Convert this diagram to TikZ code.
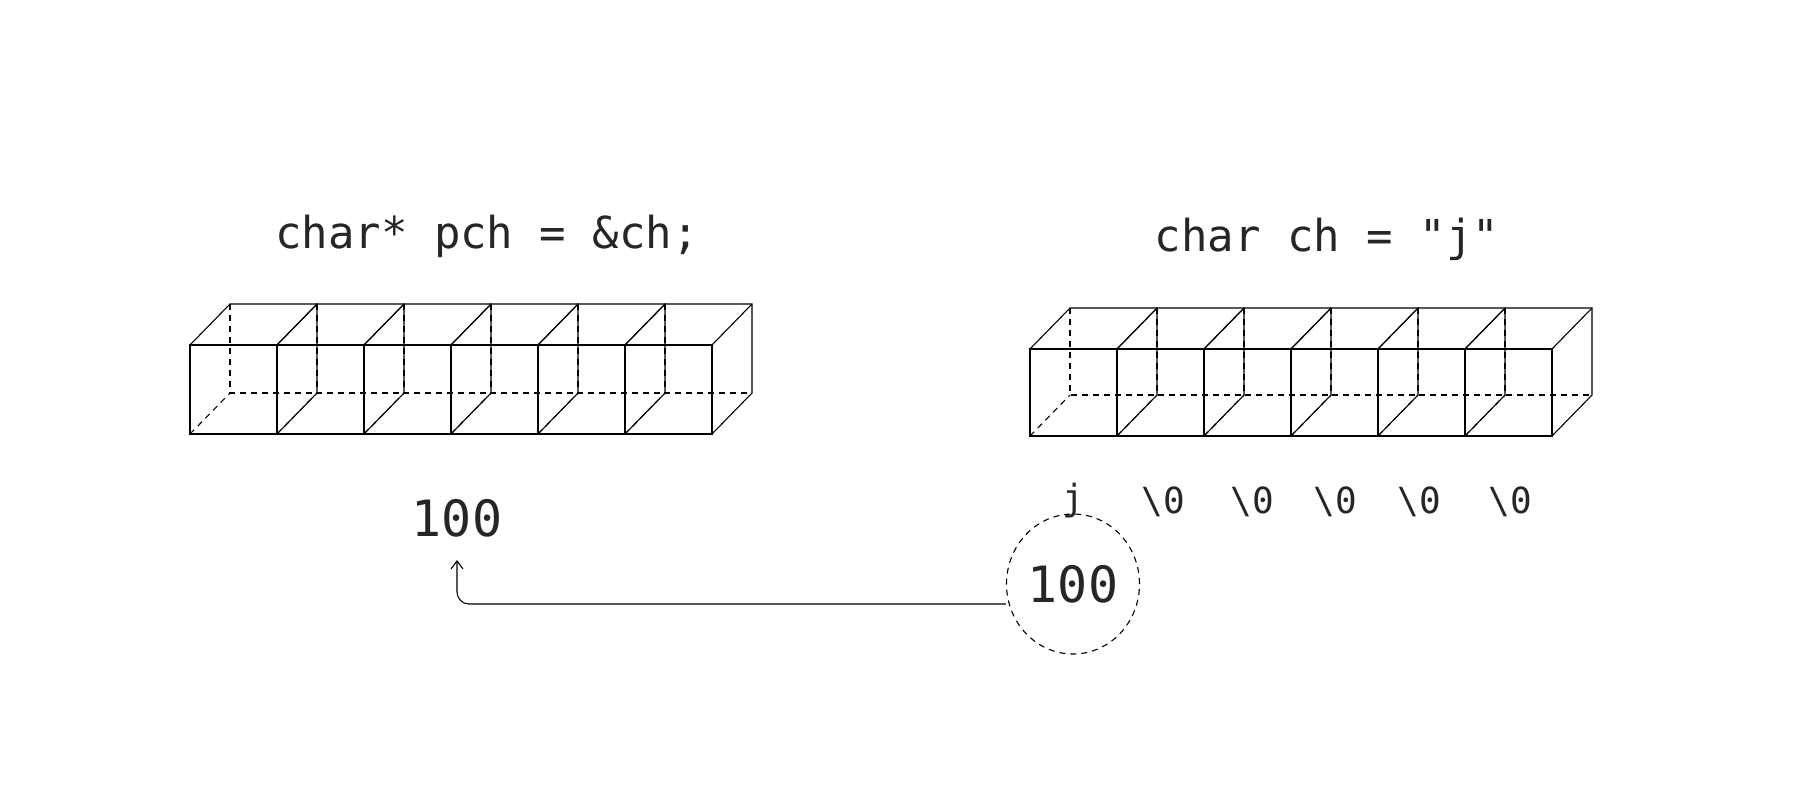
\documentclass[tikz,border=0pt]{standalone}
\usetikzlibrary{shapes.geometric,arrows.meta}
\usepackage{fontspec}
\setmonofont{DejaVu Sans Mono}
\begin{document}
\begin{tikzpicture}[x=1pt,y=-1pt,line width=1.1pt,
  lbl/.style={font=\ttfamily\fontsize{44}{48}\selectfont,text=black!85},
  big/.style={font=\ttfamily\fontsize{50}{54}\selectfont,text=black!85},
  small/.style={font=\ttfamily\fontsize{36}{40}\selectfont,text=black!85},
  hid/.style={dashed,dash pattern=on 6pt off 5pt}]
\useasboundingbox (0,0) rectangle (1796,801);
\newcommand{\cuberow}[3]{% x0, top, bottom
  \foreach \i in {0,...,5}{
    \pgfmathsetmacro{\xa}{#1+87*\i}\pgfmathsetmacro{\xb}{\xa+87}
    \draw[hid] (\xa+40,#2-41) -- (\xa+40,#3-41) -- (\xb+40,#3-41);
    \draw[hid] (\xa,#3) -- (\xa+40,#3-41);
  }
  \foreach \i in {0,...,5}{
    \pgfmathsetmacro{\xa}{#1+87*\i}\pgfmathsetmacro{\xb}{\xa+87}
    \draw (\xa,#2) rectangle (\xb,#3);
    \draw (\xa,#2) -- (\xa+40,#2-41) -- (\xb+40,#2-41) -- (\xb+40,#3-41) -- (\xb,#3);
    \draw (\xb,#2) -- (\xb+40,#2-41);
  }}
\cuberow{190}{345}{434}
\cuberow{1030}{349}{436}
\node[lbl] (t1) at (487,236) {char* pch = \&ch;};
\node[lbl] (t2) at (1327,239) {char ch = "j"};
\node[big] (v) at (457,518) {100};
\node[small] (j) at (1073,501) {j};
\foreach \x/\n in {1163/a,1252/b,1335/c,1419/d,1510/e} \node[small] (z\n) at (\x,502) {\textbackslash0};
\node[draw,hid,ellipse,minimum width=133pt,minimum height=140pt,inner sep=0pt] (c) at (1073,584) {};
\node[big] (cv) at (c.center) {100};
\coordinate (tip) at (457,560);
\draw[->,>={Straight Barb[length=8pt,width=12pt]},rounded corners=12pt] (c.west |- 0,604) -- (tip |- 0,604) -- (tip);
\end{tikzpicture}
\end{document}
